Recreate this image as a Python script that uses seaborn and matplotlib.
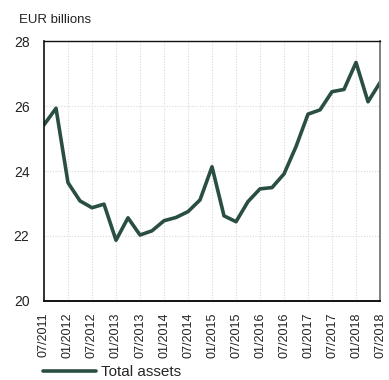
import matplotlib
matplotlib.use("Agg")
import matplotlib.pyplot as plt
import seaborn as sns
import pandas as pd

# Quarterly total assets, 07/2011 - 07/2018 (EUR billions)
quarters = ["07/2011", "10/2011", "01/2012", "04/2012", "07/2012", "10/2012",
            "01/2013", "04/2013", "07/2013", "10/2013", "01/2014", "04/2014",
            "07/2014", "10/2014", "01/2015", "04/2015", "07/2015", "10/2015",
            "01/2016", "04/2016", "07/2016", "10/2016", "01/2017", "04/2017",
            "07/2017", "10/2017", "01/2018", "04/2018", "07/2018"]
total_assets = [25.42, 25.93, 23.64, 23.08, 22.87, 22.98, 21.87, 22.56, 22.03,
                22.16, 22.47, 22.57, 22.75, 23.11, 24.13, 22.62, 22.44, 23.06,
                23.45, 23.49, 23.91, 24.75, 25.75, 25.88, 26.44, 26.51, 27.34,
                26.13, 26.72]
tick_labels = quarters[::2]
y_ticks = [20, 22, 24, 26, 28]

df = pd.DataFrame({"pos": range(len(quarters)), "value": total_assets})

sns.set_style("white")
plt.rcParams["font.family"] = ["Liberation Sans", "DejaVu Sans"]

fig = plt.figure(figsize=(3.89, 3.80), dpi=100)
ax = fig.add_axes([0.1131, 0.2079, 0.8638, 0.6842])

line_color = "#2a4f40"
sns.lineplot(data=df, x="pos", y="value", ax=ax, color=line_color,
             linewidth=2.6, label="Total assets", legend=False)

ax.set_xlim(0, len(quarters) - 1)
ax.set_ylim(20, 28)
ax.set_xticks(range(0, len(quarters), 2))
ax.set_xticklabels(tick_labels, rotation=90, fontsize=9, color="#222222")
ax.set_yticks(y_ticks)
ax.set_yticklabels([str(v) for v in y_ticks], fontsize=10, color="#222222")
ax.set_xlabel("")
ax.set_ylabel("")
ax.tick_params(axis="both", length=0)
ax.tick_params(axis="x", pad=8.4)
ax.tick_params(axis="y", pad=10.5)

ax.grid(True, color="#d9d9d9", linestyle=(0, (1, 1.5)), linewidth=0.8)
ax.set_axisbelow(True)

for side in ["left", "bottom", "top"]:
    ax.spines[side].set_color("#111111")
    ax.spines[side].set_linewidth(1.0)
ax.spines["bottom"].set_linewidth(1.4)
ax.spines["right"].set_color("#808080")
ax.spines["right"].set_linewidth(1.4)
ax.spines["left"].set_linewidth(1.2)

fig.text(0.05, 0.947, "EUR billions", fontsize=9.5, color="#222222",
         ha="left", va="center")

handles, labels = ax.get_legend_handles_labels()
fig.legend(handles, labels, loc="center left", bbox_to_anchor=(0.1105, 0.021),
           frameon=False, fontsize=11, handlelength=3.5, handletextpad=0.3,
           borderaxespad=0, borderpad=0)

fig.savefig("out.png", dpi=100)
